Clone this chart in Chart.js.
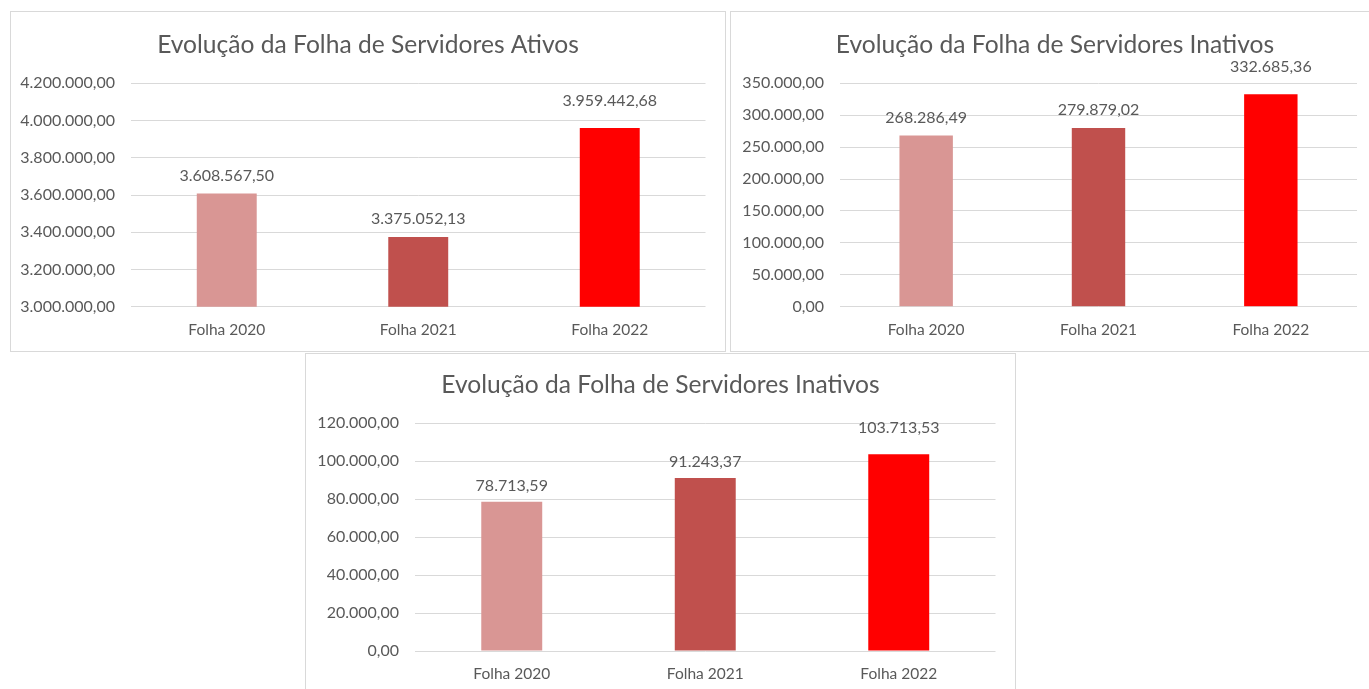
<!DOCTYPE html>
<html>
<head>
<meta charset="utf-8">
<script src="https://cdn.jsdelivr.net/npm/chart.js@4"></script>
<style>
  html, body { margin: 0; padding: 0; background: #ffffff; overflow: hidden; }
  body { width: 1369px; height: 689px; position: relative; }
  .frame { position: absolute; border: 1px solid #d9d9d9; background: #fff; box-sizing: border-box; }
  .frame canvas { display: block; }
</style>
</head>
<body>
<div class="frame" id="f1" style="left:10px;top:11px;width:716px;height:341px;"><canvas id="c1"></canvas></div>
<div class="frame" id="f2" style="left:730px;top:11px;width:650px;height:341px;"><canvas id="c2"></canvas></div>
<div class="frame" id="f3" style="left:305px;top:353px;width:711px;height:345px;"><canvas id="c3"></canvas></div>
<script>
// ---- data ----
const categories = ['Folha 2020', 'Folha 2021', 'Folha 2022'];
const ativosValues = [3608567.50, 3375052.13, 3959442.68];
const inativosValues = [268286.49, 279879.02, 332685.36];
const inativos2Values = [78713.59, 91243.37, 103713.53];
const title1 = 'Evolução da Folha de Servidores Ativos';
const title2 = 'Evolução da Folha de Servidores Inativos';
const title3 = 'Evolução da Folha de Servidores Inativos';
const ativosTicks = [3000000, 3200000, 3400000, 3600000, 3800000, 4000000, 4200000];
const inativosTicks = [0, 50000, 100000, 150000, 200000, 250000, 300000, 350000];
const inativos2Ticks = [0, 20000, 40000, 60000, 80000, 100000, 120000];

// ---- style ----
const barColors = ['#d99694', '#c0504d', '#ff0000'];
const textColor = '#595959';
const gridColor = '#d9d9d9';
const FONT = 'Lato, "Open Sans", sans-serif';

function fmtBR(v) {
  const neg = v < 0;
  v = Math.abs(v);
  const fixed = v.toFixed(2);
  let [ip, dp] = fixed.split('.');
  ip = ip.replace(/\B(?=(\d{3})+(?!\d))/g, '.');
  return (neg ? '-' : '') + ip + ',' + dp;
}

const valueLabels = {
  id: 'valueLabels',
  afterDatasetsDraw(chart, args, opts) {
    const ctx = chart.ctx;
    const meta = chart.getDatasetMeta(0);
    const data = chart.data.datasets[0].data;
    ctx.save();
    ctx.font = opts.font;
    ctx.fillStyle = opts.color;
    ctx.textAlign = 'center';
    ctx.textBaseline = 'middle';
    meta.data.forEach((bar, i) => {
      ctx.fillText(fmtBR(data[i]), bar.x, bar.y - opts.lift[i]);
    });
    ctx.restore();
  }
};

function makeChart(id, w, h, cfg) {
  const canvas = document.getElementById(id);
  canvas.width = w; canvas.height = h;
  canvas.style.width = w + 'px'; canvas.style.height = h + 'px';
  return new Chart(canvas, {
    type: 'bar',
    data: {
      labels: categories,
      datasets: [{
        data: cfg.values,
        backgroundColor: barColors,
        borderWidth: 0,
        categoryPercentage: 1,
        barPercentage: cfg.barPct
      }]
    },
    plugins: [valueLabels],
    options: {
      responsive: false,
      animation: false,
      devicePixelRatio: 1,
      layout: { padding: 0 },
      plugins: {
        legend: { display: false },
        tooltip: { enabled: false },
        title: {
          display: true,
          text: cfg.title,
          color: textColor,
          font: { family: FONT, size: 24.6, weight: 'normal', lineHeight: 1.2 },
          padding: { top: cfg.titleTop, bottom: cfg.titleBottom }
        },
        valueLabels: { font: '16px ' + FONT, color: textColor, lift: cfg.lift }
      },
      scales: {
        x: {
          grid: { display: false, drawTicks: false },
          border: { display: false },
          ticks: { color: textColor, font: { family: FONT, size: 15.5 }, padding: 14 },
          afterFit(s) { s.height = cfg.xHeight; }
        },
        y: {
          min: cfg.ticks[0],
          max: cfg.ticks[cfg.ticks.length - 1],
          afterBuildTicks(s) { s.ticks = cfg.ticks.map(v => ({ value: v })); },
          grid: { color: gridColor, lineWidth: 1, drawTicks: false },
          border: { display: false },
          ticks: { color: textColor, font: { family: FONT, size: 16 }, padding: 16, callback: v => fmtBR(v) },
          afterFit(s) { s.width = cfg.yWidth; }
        },
        yRight: {
          position: 'right',
          min: cfg.ticks[0],
          max: cfg.ticks[cfg.ticks.length - 1],
          grid: { display: false, drawTicks: false },
          border: { display: false },
          ticks: { display: false },
          afterFit(s) { s.width = cfg.rightGap; }
        }
      }
    }
  });
}

makeChart('c1', 714, 339, {
  values: ativosValues, ticks: ativosTicks, title: title1,
  yWidth: 120, rightGap: 19.5, xHeight: 44.3, titleTop: 18.2, titleBottom: 23.6,
  barPct: 0.313, lift: [18, 18, 27]
});
makeChart('c2', 648, 339, {
  values: inativosValues, ticks: inativosTicks, title: title2,
  yWidth: 109, rightGap: 22, xHeight: 44.3, titleTop: 18.2, titleBottom: 23.6,
  barPct: 0.31, lift: [18, 18, 28]
});
makeChart('c3', 709, 343, {
  values: inativos2Values, ticks: inativos2Ticks, title: title3,
  yWidth: 109, rightGap: 19.5, xHeight: 46, titleTop: 16.2, titleBottom: 23.6,
  barPct: 0.315, lift: [16, 16, 26]
});
</script>
</body>
</html>
